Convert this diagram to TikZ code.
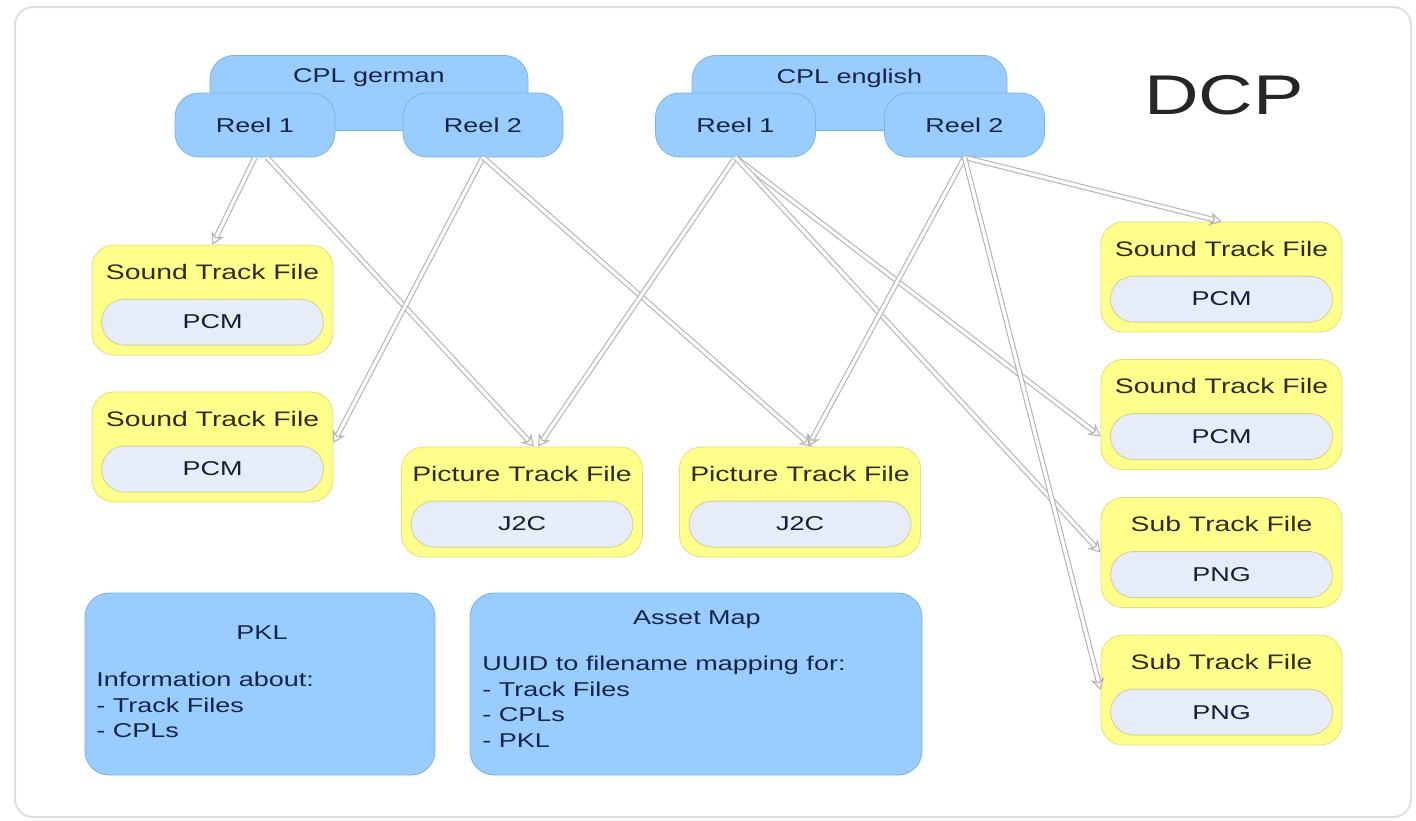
\documentclass[tikz,border=0pt]{standalone}
\usepackage{fontspec}
\setmainfont[FakeStretch=1.35]{Liberation Sans}
\usepackage{xcolor}
\usetikzlibrary{arrows.meta, positioning}
\definecolor{cplblue}{RGB}{153,204,255}
\definecolor{cplline}{RGB}{125,178,232}
\definecolor{cpltext}{RGB}{22,36,70}
\definecolor{trkyellow}{RGB}{255,255,140}
\definecolor{trkline}{RGB}{228,222,120}
\definecolor{trktext}{RGB}{45,45,20}
\definecolor{esslav}{RGB}{230,236,248}
\definecolor{essline}{RGB}{212,208,140}
\definecolor{arrgray}{RGB}{178,178,186}
\tikzstyle{frame} = [draw=gray!25, line width=1pt, rounded corners=9pt]
\tikzstyle{cpl} = [draw=cplline, fill=cplblue, rounded corners=12pt]
\tikzstyle{reel} = [cpl, minimum width=80pt, minimum height=32pt, text=cpltext, font=\fontsize{10}{12}\selectfont]
\tikzstyle{cpltitle} = [text=cpltext, font=\fontsize{10}{12}\selectfont]
\tikzstyle{track} = [draw=trkline, fill=trkyellow, rounded corners=11pt, minimum width=120.5pt, minimum height=55pt]
\tikzstyle{tracktitle} = [text=trktext, font=\fontsize{10.5}{12}\selectfont]
\tikzstyle{essence} = [draw=essline, fill=esslav, rounded corners=11.5pt, minimum width=111pt, minimum height=23pt, text=cpltext!80!black, font=\fontsize{10}{12}\selectfont]
\tikzstyle{infobox} = [cpl, minimum height=91pt]
\tikzstyle{infotext} = [text=cpltext, font=\fontsize{10}{12.75}\selectfont, align=left]
\tikzstyle{arrow} = [draw=arrgray, double=white, double distance=1.6pt, line width=0.55pt, -{Stealth[open, length=6pt, width=7pt]}]
% track file: yellow box with title and essence
\newcommand{\trackfile}[4]{%
  \node[track] (#1) at (#2) {};
  \node[tracktitle] (#1-t) at ([yshift=-13.5pt]#1.north) {#3};
  \node[essence] (#1-f) at ([yshift=-38.75pt]#1.north) {#4};
}
\begin{document}
\begin{tikzpicture}[x=0.5pt, y=-0.5pt]
    \useasboundingbox (0,0) rectangle (1416,820);
    \draw[frame] (15,7) rectangle (1411,817);

    % CPLs with reels
    \node (cplde) [cpl, minimum width=159pt, minimum height=37.5pt, anchor=north] at (369,55) {};
    \node (cplde-t) [cpltitle] at (369,78) {CPL german};
    \node (de1) [reel] at (255,125) {Reel 1};
    \node (de2) [reel] at (483,125) {Reel 2};

    \node (cplen) [cpl, minimum width=157.5pt, minimum height=37.5pt, anchor=north] at (849.5,55) {};
    \node (cplen-t) [cpltitle] at (849.5,78) {CPL english};
    \node (en1) [reel] at (735.5,125) {Reel 1};
    \node (en2) [reel] at (964.5,125) {Reel 2};

    \node (dcp) [font=\fontsize{28}{30}\selectfont, text=black!85] at (1224,95) {DCP};

    % track files
    \trackfile{snd1}{212.5,300}{Sound Track File}{PCM}
    \trackfile{snd2}{212.5,447}{Sound Track File}{PCM}
    \trackfile{pic1}{522,502}{Picture Track File}{J2C}
    \trackfile{pic2}{800,502}{Picture Track File}{J2C}
    \trackfile{snd3}{1221.5,277}{Sound Track File}{PCM}
    \trackfile{snd4}{1221.5,414.5}{Sound Track File}{PCM}
    \trackfile{sub1}{1221.5,552.5}{Sub Track File}{PNG}
    \trackfile{sub2}{1221.5,690}{Sub Track File}{PNG}

    % PKL and asset map
    \node (pkl) [infobox, minimum width=175pt] at (260,684) {};
    \node (pkl-t) [infotext] at (262,633) {PKL};
    \node (pkl-b) [infotext, anchor=north west, inner sep=0pt] at (96,672) {Information about:\\- Track Files\\- CPLs};
    \node (am) [infobox, minimum width=226pt] at (696,684) {};
    \node (am-t) [infotext] at (697,620) {Asset Map};
    \node (am-b) [infotext, anchor=north west, inner sep=0pt] at (482,656) {UUID to filename mapping for:\\- Track Files\\- CPLs\\- PKL};

    % references
    \draw [arrow] (de1.south) -- (snd1.north);
    \draw [arrow] ([xshift=6pt]de1.south) -- ([xshift=6pt]pic1.north);
    \draw [arrow] (de2.south) -- ([yshift=2pt]snd2.east);
    \draw [arrow] (de2.south) -- ([xshift=6pt]pic2.north);
    \draw [arrow] (en1.south) -- ([xshift=8pt]pic1.north);
    \draw [arrow] (en1.south) -- ([yshift=-11pt]snd4.west);
    \draw [arrow] (en1.south) -- (sub1.west);
    \draw [arrow] (en2.south) -- ([xshift=4pt]pic2.north);
    \draw [arrow] (en2.south) -- (snd3.north);
    \draw [arrow] (en2.south) -- (sub2.west);
\end{tikzpicture}
\end{document}
